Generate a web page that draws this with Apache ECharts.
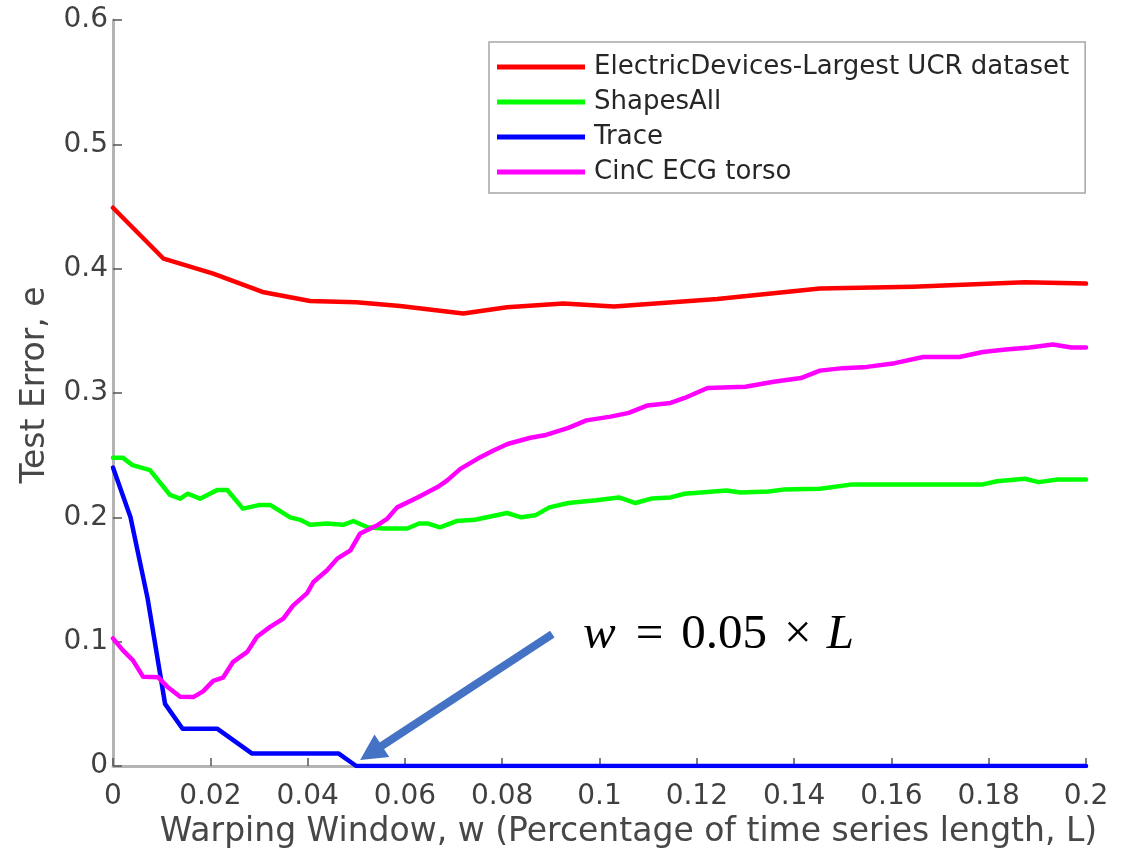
<!DOCTYPE html>
<html>
<head>
<meta charset="utf-8">
<script src="https://cdn.jsdelivr.net/npm/echarts@6/dist/echarts.min.js"></script>
<style>
html,body{margin:0;padding:0;background:#fff;}
#c{width:1127px;height:858px;}
</style>
</head>
<body>
<div id="c"></div>
<script>
// ---- data ----
const seriesNames = ['ElectricDevices-Largest UCR dataset', 'ShapesAll', 'Trace', 'CinC ECG torso'];
const xTickLabels = ['0','0.02','0.04','0.06','0.08','0.1','0.12','0.14','0.16','0.18','0.2'];
const yTickLabels = ['0','0.1','0.2','0.3','0.4','0.5','0.6'];

const electricDevices = [
  [0,0.449],[0.0104,0.408],[0.0206,0.396],[0.031,0.381],[0.0405,0.374],[0.05,0.373],
  [0.059,0.370],[0.072,0.364],[0.081,0.369],[0.0926,0.372],[0.103,0.3695],[0.1242,0.3756],
  [0.1453,0.384],[0.1644,0.3855],[0.1874,0.389],[0.2,0.388]
];
const shapesAll = [
  [0,0.248],[0.002,0.248],[0.004,0.242],[0.0076,0.238],[0.0117,0.218],[0.0138,0.215],
  [0.0154,0.219],[0.0179,0.215],[0.0214,0.222],[0.0235,0.222],[0.0267,0.207],[0.0302,0.210],
  [0.0323,0.210],[0.0364,0.200],[0.0385,0.198],[0.0405,0.194],[0.044,0.195],[0.0473,0.194],
  [0.0494,0.197],[0.0523,0.192],[0.0556,0.191],[0.0605,0.191],[0.0629,0.195],[0.0648,0.195],
  [0.0672,0.192],[0.0706,0.197],[0.0744,0.198],[0.081,0.2035],[0.0839,0.200],[0.0868,0.2016],
  [0.0897,0.208],[0.0936,0.2115],[0.0993,0.2137],[0.104,0.216],[0.1074,0.2115],[0.1108,0.2152],
  [0.1146,0.216],[0.1175,0.219],[0.1261,0.2215],[0.129,0.220],[0.1348,0.2207],[0.1377,0.2223],
  [0.1453,0.223],[0.152,0.2265],[0.1644,0.2265],[0.1788,0.2265],[0.1817,0.229],[0.1874,0.231],
  [0.1903,0.2283],[0.1942,0.2305],[0.2,0.2305]
];
const trace = [
  [0,0.240],[0.0036,0.200],[0.0071,0.135],[0.0107,0.050],[0.0143,0.030],[0.0214,0.030],
  [0.0286,0.010],[0.0464,0.010],[0.050,0.000],[0.2,0.000]
];
const cincEcgTorso = [
  [0,0.1026],[0.002,0.0932],[0.0041,0.085],[0.0062,0.0717],[0.0093,0.0713],[0.0111,0.064],
  [0.0138,0.0557],[0.0165,0.0554],[0.0185,0.060],[0.0206,0.0685],[0.0226,0.071],[0.0247,0.0838],
  [0.0276,0.0918],[0.0296,0.1039],[0.0323,0.1119],[0.035,0.1186],[0.037,0.129],[0.0399,0.139],
  [0.0412,0.148],[0.044,0.1574],[0.0461,0.1668],[0.0488,0.1735],[0.0508,0.187],[0.0543,0.1936],
  [0.0564,0.199],[0.0584,0.208],[0.0626,0.216],[0.0667,0.2243],[0.0687,0.2297],[0.0714,0.239],
  [0.0755,0.2484],[0.0782,0.2538],[0.0811,0.259],[0.0858,0.264],[0.0887,0.266],[0.0936,0.272],
  [0.0973,0.278],[0.1023,0.281],[0.106,0.284],[0.1099,0.290],[0.1146,0.292],[0.1175,0.296],
  [0.1222,0.304],[0.130,0.305],[0.1358,0.309],[0.1414,0.312],[0.1453,0.318],[0.150,0.320],
  [0.155,0.321],[0.1607,0.324],[0.1665,0.329],[0.174,0.329],[0.1788,0.333],[0.1835,0.335],
  [0.1884,0.3366],[0.1932,0.339],[0.197,0.3366],[0.2,0.3366]
];
// annotation arrow (data coordinates: tail and tip)
const arrowFrom = [0.0903, 0.106];
const arrowTo = [0.0508, 0.0048];

// ---- chart ----
const colors = ['#ff0000', '#00ff00', '#0000ff', '#ff00ff'];
const datasets = [electricDevices, shapesAll, trace, cincEcgTorso];
const FONT = 'DejaVu Sans';
const SERIF = 'Liberation Serif';
const ARROW_COLOR = '#4472C4';

const chart = echarts.init(document.getElementById('c'), null, {renderer: 'canvas'});

const series = datasets.map((d, i) => ({
  name: seriesNames[i],
  type: 'line',
  data: d,
  symbol: 'none',
  smooth: false,
  z: 10 + i,
  lineStyle: {color: colors[i], width: 4.5, join: 'round', cap: 'round'},
  itemStyle: {color: colors[i]},
  emphasis: {disabled: true},
  animation: false
}));

chart.setOption({
  backgroundColor: '#ffffff',
  animation: false,
  grid: {left: 113, right: 41, top: 20, bottom: 92, containLabel: false},
  legend: {
    data: seriesNames,
    orient: 'vertical',
    left: 489,
    top: 42,
    padding: [12, 16, 8, 8],
    icon: 'rect',
    itemWidth: 88,
    itemHeight: 5,
    itemGap: 9,
    borderColor: '#a6a6a6',
    borderWidth: 1.5,
    backgroundColor: '#ffffff',
    selectedMode: false,
    textStyle: {fontFamily: FONT, fontSize: 26, lineHeight: 26, color: '#262626', padding: [0, 0, 0, 4]}
  },
  xAxis: {
    type: 'value',
    min: 0, max: 0.2, interval: 0.02,
    name: 'Warping Window, w (Percentage of time series length, L)',
    nameLocation: 'middle',
    nameGap: 49,
    nameTextStyle: {fontFamily: FONT, fontSize: 33, color: '#474747', padding: [0, 0, 0, 58]},
    axisLine: {show: true, onZero: false, lineStyle: {color: '#b3b3b3', width: 3}},
    axisTick: {show: true, inside: true, length: 8, lineStyle: {color: '#555555', width: 1.5}},
    axisLabel: {
      fontFamily: FONT, fontSize: 28, color: '#404040', margin: 17,
      formatter: v => xTickLabels[Math.round(v / 0.02)]
    },
    splitLine: {show: false}
  },
  yAxis: {
    type: 'value',
    min: 0, max: 0.6, interval: 0.1,
    name: 'Test Error, e',
    nameLocation: 'middle',
    nameGap: 61,
    nameTextStyle: {fontFamily: FONT, fontSize: 33, color: '#474747', padding: [0, 0, 0, 16]},
    axisLine: {show: true, onZero: false, lineStyle: {color: '#b3b3b3', width: 3}},
    axisTick: {show: true, inside: true, length: 9, lineStyle: {color: '#555555', width: 1.5}},
    axisLabel: {
      fontFamily: FONT, fontSize: 28, color: '#404040', margin: 5,
      formatter: v => yTickLabels[Math.round(v / 0.1)]
    },
    splitLine: {show: false}
  },
  series: series
});

// Arrow + formula annotation, placed through the grid's own coordinate conversion
const p0 = chart.convertToPixel({gridIndex: 0}, arrowFrom);
const p1 = chart.convertToPixel({gridIndex: 0}, arrowTo);
const dx = p1[0] - p0[0], dy = p1[1] - p0[1];
const len = Math.sqrt(dx * dx + dy * dy);
const ux = dx / len, uy = dy / len;
const headLen = 26, headHalf = 13.5;
const bx = p1[0] - ux * headLen, by = p1[1] - uy * headLen;
const nx = -uy, ny = ux;

chart.setOption({
  graphic: [
    {
      id: 'arrowShaft', type: 'line', z: 50, silent: true,
      shape: {x1: p0[0], y1: p0[1], x2: bx + ux * 2, y2: by + uy * 2},
      style: {stroke: ARROW_COLOR, lineWidth: 8, lineCap: 'butt'}
    },
    {
      id: 'arrowHead', type: 'polygon', z: 50, silent: true,
      shape: {points: [[p1[0], p1[1]], [bx + nx * headHalf, by + ny * headHalf], [bx - nx * headHalf, by - ny * headHalf]]},
      style: {fill: ARROW_COLOR}
    },
    {
      id: 'formula', type: 'text', x: 583, y: 635, z: 100, silent: true,
      style: {
        text: '{i|w}{op1|=}{n|0.05}{op2|×}{i|L}',
        align: 'left',
        verticalAlign: 'middle',
        fontFamily: SERIF,
        fontSize: 49,
        fill: '#000',
        rich: {
          i: {fontFamily: SERIF, fontStyle: 'italic', fontSize: 49, color: '#000'},
          n: {fontFamily: SERIF, fontSize: 49, color: '#000'},
          op1: {fontFamily: SERIF, fontSize: 49, color: '#000', padding: [0, 18, 0, 20]},
          op2: {fontFamily: SERIF, fontSize: 49, color: '#000', padding: [0, 15, 0, 17]}
        }
      }
    }
  ]
});
</script>
</body>
</html>
